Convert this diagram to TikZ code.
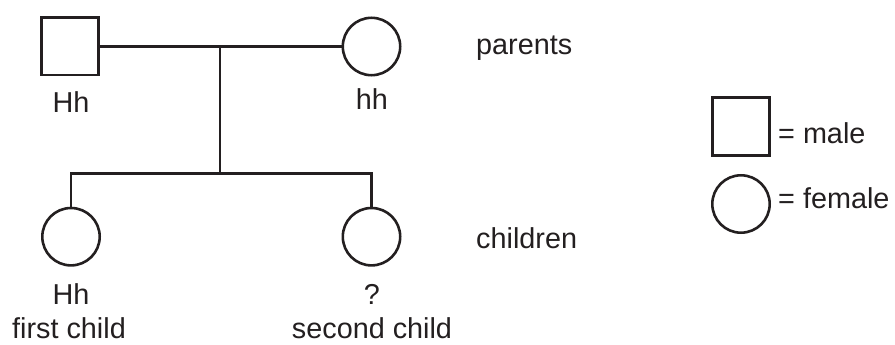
\documentclass[tikz,border=0pt]{standalone}
\usepackage{fontspec}
\setmainfont{Liberation Sans}
\definecolor{ink}{HTML}{231F20}
\begin{document}
\begin{tikzpicture}[x=1pt,y=-1pt,
  male/.style={rectangle, draw=ink, line width=2.6pt, minimum size=57.4pt, inner sep=0pt},
  female/.style={circle, draw=ink, line width=2.6pt, minimum size=57.4pt, inner sep=0pt},
  lbl/.style={anchor=base, font=\fontsize{28.8}{34}\selectfont, text=ink, inner sep=0pt, text depth=0pt},
  lblw/.style={lbl, anchor=base west},
  link/.style={draw=ink, line width=2.6pt, line join=miter}]
\useasboundingbox (0,0) rectangle (895,345);
% parents
\node[male] (father) at (70,46.5) {};
\node[female] (mother) at (371.5,46.5) {};
\coordinate (mid) at (220,46.5);
\coordinate (sib) at (220,173.3);
% children
\node[female] (c1) at (71,236.7) {};
\node[female] (c2) at (371.5,236.7) {};
% connectors
\draw[link] (father) -- (mother);
\draw[link] (mid) -- (sib);
\draw[link] (c1.north) -- (c1 |- sib) -- (c2 |- sib) -- (c2.north);
% labels
\node[lbl] (lf) at (71,113) {Hh};
\node[lbl] (lm) at (372,110) {hh};
\node[lbl] (l1) at (71,304) {Hh};
\node[lbl] (l2) at (372,304) {?};
\node[lbl] (n1) at (69,338.5) {first child};
\node[lbl] (n2) at (372,338.5) {second child};
\node[lblw] (par) at (476,55) {parents};
\node[lblw] (chi) at (476,248) {children};
% legend
\node[male] (legm) at (741,126.5) {};
\node[female] (legf) at (741,204) {};
\node[lblw] (tm) at (778,143) {= male};
\node[lblw] (tf) at (778,208) {= female};
\end{tikzpicture}
\end{document}
